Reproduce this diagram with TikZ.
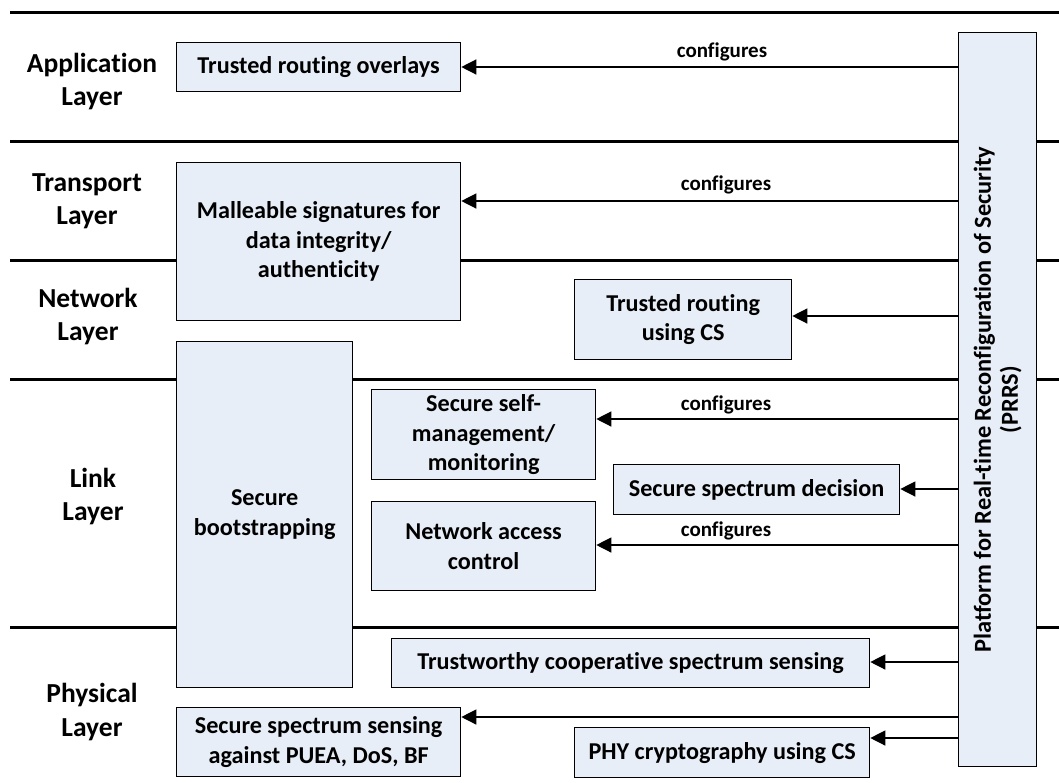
\documentclass[tikz,border=0pt]{standalone}
\usepackage{fontspec}
\setmainfont{Carlito}[Ligatures=NoCommon]
\usetikzlibrary{arrows.meta}
\definecolor{boxfill}{HTML}{E8EEF7}
\begin{document}
\begin{tikzpicture}[x=1pt,y=-1pt,
  layerline/.style={line width=3pt},
  box/.style={draw=black,line width=1.3pt,fill=boxfill,inner sep=0pt,align=center,anchor=north west,
    font=\bfseries\fontsize{24.2}{29.5}\selectfont},
  layerlbl/.style={align=center,font=\bfseries\fontsize{27.5}{33}\selectfont},
  arr/.style={line width=1.3pt,-{Triangle[length=15pt,width=15pt]}},
  cfg/.style={font=\bfseries\fontsize{21}{24}\selectfont,anchor=base}]
\useasboundingbox (0,0) rectangle (1059,782);
% layer lines
\foreach \yy in {12,141,260,379,627} \draw[layerline] (10,\yy) -- (1059,\yy);
% layer labels
\node[layerlbl] (app) at (92,82) {Application\\Layer};
\node[layerlbl] (tra) at (87,201) {Transport\\Layer};
\node[layerlbl] (net) at (88,317) {Network\\Layer};
\node[layerlbl] (lnk) at (93,497) {Link\\Layer};
\node[layerlbl] (phy) at (92,712) {Physical\\Layer};
% PRRS
\node[box,minimum width=78pt,minimum height=734pt] (prrs) at (958,32) {};
\node[rotate=90,align=center,font=\bfseries\fontsize{24.4}{27}\selectfont] (prrst) at (prrs.center) {Platform for Real-time Reconfiguration of Security\\(PRRS)};
% boxes
\node[box,minimum width=284pt,minimum height=49pt] (tro) at (176,42) {Trusted routing overlays};
\node[box,minimum width=284pt,minimum height=158pt] (mal) at (176,162) {Malleable signatures for\\data integrity/\\authenticity};
\node[box,minimum width=217pt,minimum height=80pt] (trc) at (574,279) {Trusted routing\\using CS};
\node[box,minimum width=176pt,minimum height=346pt] (boot) at (176,341) {Secure\\bootstrapping};
\node[box,minimum width=224pt,minimum height=90pt] (ssm) at (371,389) {Secure self-\\management/\\monitoring};
\node[box,minimum width=286pt,minimum height=50pt] (ssd) at (613,464) {Secure spectrum decision};
\node[box,minimum width=224pt,minimum height=89pt] (nac) at (371,501) {Network access\\control};
\node[box,minimum width=478pt,minimum height=49pt] (tcs) at (391,638) {Trustworthy cooperative spectrum sensing};
\node[box,minimum width=284pt,minimum height=69pt] (sss) at (176,707) {Secure spectrum sensing\\against PUEA, DoS, BF};
\node[box,minimum width=295pt,minimum height=50pt] (phc) at (574,727) {PHY cryptography using CS};
% arrows
\draw[arr] (prrs.west |- 0,67) -- (tro.east |- 0,67);
\draw[arr] (prrs.west |- 0,201) -- (mal.east |- 0,201);
\draw[arr] (prrs.west |- 0,316) -- (trc.east |- 0,316);
\draw[arr] (prrs.west |- 0,419) -- (ssm.east |- 0,419);
\draw[arr] (prrs.west |- 0,489) -- (ssd.east |- 0,489);
\draw[arr] (prrs.west |- 0,545) -- (nac.east |- 0,545);
\draw[arr] (prrs.west |- 0,662) -- (tcs.east |- 0,662);
\draw[arr] (prrs.west |- 0,717) -- (sss.east |- 0,717);
\draw[arr] (prrs.west |- 0,738) -- (phc.east |- 0,738);
% labels
\node[cfg] (c1) at (722,57) {configures};
\node[cfg] (c2) at (726,190) {configures};
\node[cfg] (c3) at (726,410) {configures};
\node[cfg] (c4) at (726,536) {configures};
\end{tikzpicture}
\end{document}
